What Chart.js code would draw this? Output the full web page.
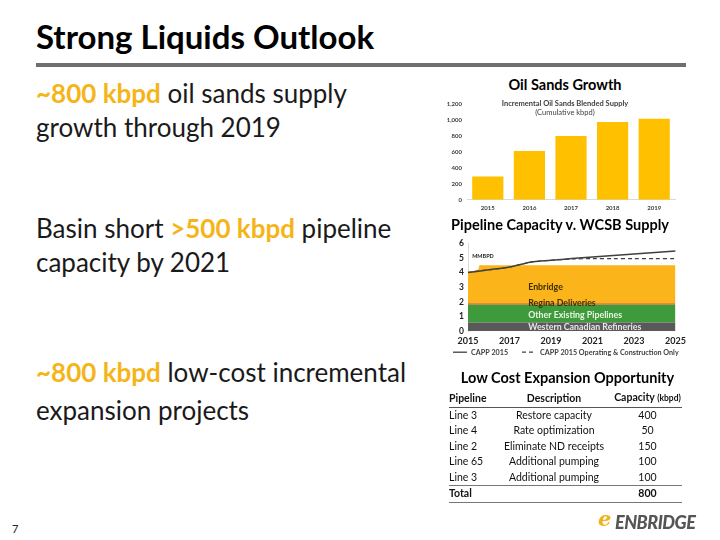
<!DOCTYPE html>
<html>
<head>
<meta charset="utf-8">
<script src="https://cdn.jsdelivr.net/npm/chart.js@4/dist/chart.umd.min.js"></script>
<style>
  body { margin: 0; width: 720px; height: 540px; position: relative; background: #fff; font-family: Lato, "Open Sans", sans-serif; overflow: hidden; }
  .abs { position: absolute; }
  .title { left: 36px; top: 16px; font-size: 33px; font-weight: bold; color: #000; }
  .rule { left: 36px; top: 63px; width: 650px; height: 4px; background: #6f6f6f; }
  .point { left: 36px; font-size: 26px; color: #1a1a1a; line-height: 34px; }
  .hi { color: #f5b519; font-weight: bold; }
  .head { font-weight: bold; font-size: 14.5px; color: #000; text-align: center; }
  .sub { font-size: 7.5px; font-weight: bold; color: #404040; text-align: center; line-height: 9px; }
  table { border-collapse: collapse; font-size: 10.5px; color: #111; table-layout: fixed; }
  td, th { padding: 0; height: 15.5px; line-height: 15.5px; white-space: nowrap; }
  th { font-weight: bold; border-bottom: 1.5px solid #555; }
  tr.last td { border-bottom: 1.5px solid #777; }
  tr.total td { font-weight: bold; border-bottom: 1.5px solid #777; }
</style>
</head>
<body>
<div class="abs title">Strong Liquids Outlook</div>
<div class="abs rule"></div>

<div class="abs point" style="top:76px"><span class="hi">~800 kbpd</span> oil sands supply<br>growth through 2019</div>
<div class="abs point" style="top:211px">Basin short <span class="hi">&gt;500 kbpd</span> pipeline<br>capacity by 2021</div>
<div class="abs point" style="top:353px;line-height:38px"><span class="hi">~800 kbpd</span> low-cost incremental<br>expansion projects</div>

<div class="abs head" style="left:460px;top:76px;width:210px">Oil Sands Growth</div>
<div class="abs" style="left:440px;top:95px;width:240px;height:122px"><canvas id="growth"></canvas></div>
<div class="abs sub" style="left:470px;top:99px;width:190px">Incremental Oil Sands Blended Supply<br><span style="font-weight:normal">(Cumulative kbpd)</span></div>

<div class="abs head" style="left:440px;top:216px;width:240px">Pipeline Capacity v. WCSB Supply</div>
<div class="abs" style="left:440px;top:234px;width:250px;height:131px"><canvas id="capacity"></canvas></div>

<div class="abs head" style="left:440px;top:369px;width:255px">Low Cost Expansion Opportunity</div>
<table class="abs" id="projects" style="left:449px;top:390px;width:233px">
  <thead><tr><th style="text-align:left;width:50px">Pipeline</th><th style="width:110px">Description</th><th style="padding-left:4px">Capacity <span style="font-size:8.5px">(kbpd)</span></th></tr></thead>
  <tbody></tbody>
</table>

<div class="abs" style="left:12px;top:522px;font-size:11px;color:#222">7</div>
<div class="abs" style="left:598px;top:506px;font-size:21px;font-weight:bold;font-style:italic;color:#f2b21b;font-family:'DejaVu Serif'">e</div>
<div class="abs" style="left:615px;top:511px;font-size:18px;font-weight:900;font-style:italic;color:#555;letter-spacing:-0.5px">ENBRIDGE</div>

<script>
// Oil sands growth (cumulative kbpd)
const growthYears = ["2015", "2016", "2017", "2018", "2019"]
const growthValues = [290, 610, 795, 970, 1010]

// Pipeline capacity stack (MMBPD)
const capacityYears = [2015, 2015.5, 2015.55, 2025]
const refineries = [0.6, 0.6, 0.6, 0.6]
const otherPipelines = [1.2, 1.2, 1.2, 1.2]
const reginaDeliveries = [0.1, 0.1, 0.1, 0.1]
const enbridgeCapacity = [2.1, 2.3, 2.6, 2.6]

// WCSB supply forecasts (MMBPD)
const supplyYears = [2015, 2016, 2017, 2018, 2019, 2020, 2021, 2022, 2023, 2024, 2025]
const capp2015 = [4.0, 4.18, 4.37, 4.7, 4.83, 4.95, 5.06, 5.16, 5.26, 5.36, 5.47]
const cappOperating = [4.0, 4.18, 4.37, 4.7, 4.83, 4.92, 4.94, 4.94, 4.94, 4.94, 4.94]

const projectLines = ["Line 3", "Line 4", "Line 2", "Line 65", "Line 3"]
const projectDescriptions = ["Restore capacity", "Rate optimization", "Eliminate ND receipts", "Additional pumping", "Additional pumping"]
const projectCapacity = [400, 50, 150, 100, 100]

Chart.defaults.font.family = "Lato, 'Open Sans', sans-serif"
Chart.defaults.animation = false

const tbody = document.querySelector("#projects tbody")
projectLines.forEach((line, i) => {
  const tr = document.createElement("tr")
  if (i === projectLines.length - 1) tr.className = "last"
  tr.innerHTML = `<td>${line}</td><td style="text-align:center">${projectDescriptions[i]}</td><td style="text-align:center;padding-left:4px">${projectCapacity[i]}</td>`
  tbody.appendChild(tr)
})
const total = projectCapacity.reduce((a, b) => a + b, 0)
const totalRow = document.createElement("tr")
totalRow.className = "total"
totalRow.innerHTML = `<td>Total</td><td></td><td style="text-align:center;padding-left:4px">${total}</td>`
tbody.appendChild(totalRow)

new Chart(document.getElementById("growth"), {
  type: "bar",
  data: {
    labels: growthYears,
    datasets: [{
      data: growthValues,
      backgroundColor: "#ffc000",
      barPercentage: 0.75,
      categoryPercentage: 1
    }]
  },
  options: {
    responsive: true,
    maintainAspectRatio: false,
    layout: { padding: { top: 1, right: 5 } },
    plugins: { legend: { display: false }, tooltip: { enabled: false } },
    scales: {
      x: {
        grid: { display: false, drawTicks: false },
        border: { color: "#d9d9d9" },
        ticks: { color: "#404040", font: { size: 6, weight: "bold" }, padding: 5 }
      },
      y: {
        min: 0,
        max: 1200,
        afterFit: (axis) => { axis.width = 27 },
        grid: { display: false, drawTicks: false },
        border: { display: false },
        ticks: {
          stepSize: 200,
          color: "#404040",
          padding: 5,
          font: { size: 6, weight: "bold" },
          callback: (v) => v.toLocaleString("en-US")
        }
      }
    }
  }
})

// area captions, unit note and the legend for the two supply lines
const capacityDecor = {
  id: "capacityDecor",
  afterDraw(chart) {
    const { ctx, chartArea, scales: { x, y } } = chart
    const left = x.getPixelForValue(2017.9)
    ctx.save()
    ctx.font = "bold 8.8px Lato, sans-serif"
    ctx.textBaseline = "middle"
    ctx.textAlign = "left"
    const rows = [["Enbridge", 3.0, "#3d2f00"], ["Regina Deliveries", 1.93, "#3d2f00"], ["Other Existing Pipelines", 1.12, "#e9f5e4"], ["Western Canadian Refineries", 0.27, "#e6e6e6"]]
    rows.forEach(([t, v, c]) => {
      ctx.fillStyle = c
      ctx.fillText(t, left, y.getPixelForValue(v))
    })
    ctx.font = "bold 5.5px Lato, sans-serif"
    ctx.fillStyle = "#222"
    ctx.fillText("MMBPD", x.getPixelForValue(2015.2), y.getPixelForValue(5.12))

    const ly = chartArea.bottom + 21
    const starts = [chartArea.left - 15, chartArea.left + 54]
    ctx.font = "bold 7.2px Lato, sans-serif"
    chart.data.datasets.slice(4).forEach((ds, i) => {
      const sx = starts[i]
      ctx.strokeStyle = ds.borderColor
      ctx.lineWidth = 1.3
      ctx.setLineDash(ds.borderDash || [])
      ctx.beginPath()
      ctx.moveTo(sx, ly)
      ctx.lineTo(sx + 14, ly)
      ctx.stroke()
      ctx.fillStyle = "#404040"
      ctx.fillText(ds.label, sx + 18, ly)
    })
    ctx.restore()
  }
}

const pts = (xs, ys) => xs.map((v, i) => ({ x: v, y: ys[i] }))
const area = (label, values, color, fill) => ({
  label,
  data: pts(capacityYears, values),
  backgroundColor: color,
  borderWidth: 0,
  pointRadius: 0,
  fill,
  order: 2
})

new Chart(document.getElementById("capacity"), {
  type: "line",
  data: {
    datasets: [
      area("Western Canadian Refineries", refineries, "#595959", "origin"),
      area("Other Existing Pipelines", otherPipelines, "#3e9a3a", "-1"),
      area("Regina Deliveries", reginaDeliveries, "#e2641c", "-1"),
      area("Enbridge", enbridgeCapacity, "#fbb41a", "-1"),
      {
        label: "CAPP 2015",
        data: pts(supplyYears, capp2015),
        borderColor: "#404040",
        borderWidth: 1.5,
        pointRadius: 0,
        tension: 0.3,
        fill: false,
        stack: "capp",
        order: 0
      },
      {
        label: "CAPP 2015 Operating & Construction Only",
        data: pts(supplyYears, cappOperating),
        borderColor: "#404040",
        borderWidth: 1.2,
        borderDash: [4, 3],
        pointRadius: 0,
        tension: 0.3,
        fill: false,
        stack: "ops",
        order: 1
      }
    ]
  },
  plugins: [capacityDecor],
  options: {
    responsive: true,
    maintainAspectRatio: false,
    layout: { padding: { top: 3, right: 13, left: 0, bottom: 15 } },
    plugins: {
      tooltip: { enabled: false },
      legend: { display: false }
    },
    scales: {
      x: {
        type: "linear",
        min: 2015,
        max: 2025,
        grid: { display: false, drawTicks: false },
        border: { display: false },
        ticks: { stepSize: 2, color: "#222", padding: 4, font: { size: 9, weight: "bold" }, callback: (v) => String(v) }
      },
      y: {
        stacked: true,
        min: 0,
        max: 6,
        afterFit: (axis) => { axis.width = 28 },
        grid: { display: false, drawTicks: false },
        border: { color: "#d9d9d9" },
        ticks: { stepSize: 1, autoSkip: false, color: "#222", padding: 4, font: { size: 8.5, weight: "bold" } }
      }
    }
  }
})
</script>
</body>
</html>
